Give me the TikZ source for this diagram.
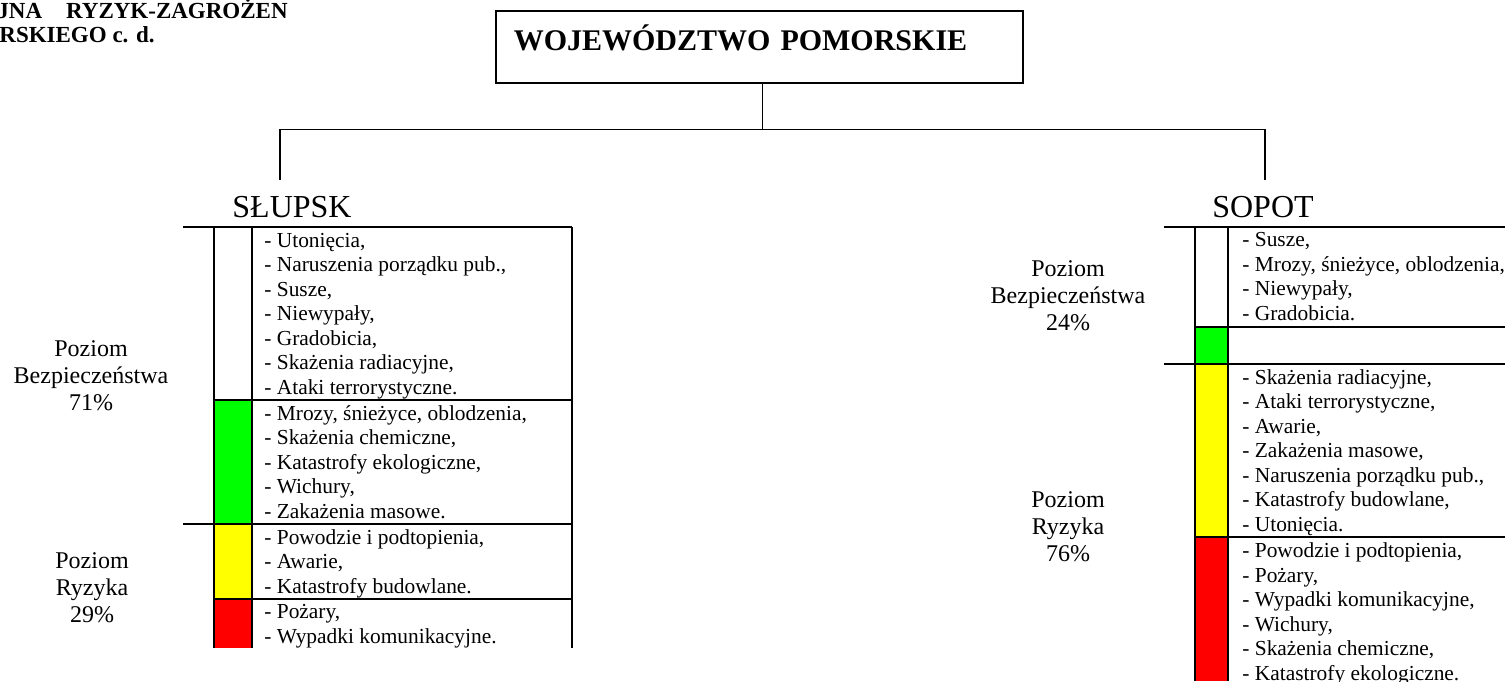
\documentclass[tikz,border=0pt]{standalone}
\usepackage{fontspec}
\setmainfont{Liberation Serif}
\usetikzlibrary{positioning}
\tikzset{font={\fontsize{10.7pt}{12.25pt}\selectfont}}
\definecolor{safegreen}{RGB}{0,255,0}
\definecolor{warnyellow}{RGB}{255,255,0}
\definecolor{riskred}{RGB}{255,0,0}
\tikzset{
  head/.style={anchor=base west, inner sep=0pt, font={\fontsize{11.5pt}{12pt}\selectfont\bfseries}},
  titlebox/.style={draw, line width=0.8pt, anchor=north west, text width=245.5pt, align=left,
    inner xsep=9pt, inner ysep=0pt, text height=20pt, text depth=16pt,
    font={\fontsize{15pt}{16pt}\selectfont\bfseries}},
  city/.style={anchor=base, inner sep=0pt, font={\fontsize{16pt}{18pt}\selectfont}},
  lvl/.style={anchor=base, align=center, inner sep=0pt, font={\fontsize{12pt}{13.5pt}\selectfont}},
  items/.style={anchor=base west, align=left, inner sep=0pt},
  grid/.style={line width=1pt},
  tree/.style={line width=0.8pt},
}

\begin{document}
\begin{tikzpicture}[x=0.5pt, y=-0.5pt]
  \useasboundingbox (0,0) rectangle (1505,681);

  % Heading, cut at the page edge
  \node[head] (head1) at (-3,18) {JNA\hspace{12pt}RYZYK-ZAGROŻEN};
  \node[head] (head2) at (-1,42) {RSKIEGO c. d.};

  % Title and tree
  \node[titlebox] (woj) at (495,10) {WOJEWÓDZTWO POMORSKIE};
  \coordinate (slupskTop) at (280,180);
  \coordinate (sopotTop) at (1265,180);
  \draw[tree] ([xshift=1.5pt]woj.south) -- ++(0,46) -| (slupskTop);
  \draw[tree] ([xshift=1.5pt]woj.south) -- ++(0,46) -| (sopotTop);

  % Slupsk (lists are placed at the baseline of their last line)
  \node[city] (slupsk) at (292,217) {SŁUPSK};
  \fill[safegreen] (214,400) rectangle (252,524);
  \fill[warnyellow] (214,524) rectangle (252,599);
  \fill[riskred] (214,599) rectangle (252,648);
  \draw[grid] (183,227) -- (572,227) (183,524) -- (572,524)
    (214,400) -- (572,400) (214,599) -- (572,599)
    (214,227) -- (214,648) (252,227) -- (252,648) (572,227) -- (572,648);
  \node[items] (slWhite) at (264,394) {- Utonięcia,\\- Naruszenia porządku pub.,\\- Susze,\\- Niewypały,\\- Gradobicia,\\- Skażenia radiacyjne,\\- Ataki terrorystyczne.};
  \node[items] (slGreen) at (264,518) {- Mrozy, śnieżyce, oblodzenia,\\- Skażenia chemiczne,\\- Katastrofy ekologiczne,\\- Wichury,\\- Zakażenia masowe.};
  \node[items] (slYellow) at (264,593) {- Powodzie i podtopienia,\\- Awarie,\\- Katastrofy budowlane.};
  \node[items] (slRed) at (264,643) {- Pożary,\\- Wypadki komunikacyjne.};
  \node[lvl] (slSafe) at (91,410) {Poziom\\Bezpieczeństwa\\71\%};
  \node[lvl] (slRisk) at (92,622) {Poziom\\Ryzyka\\29\%};

  % Sopot
  \node[city] (sopot) at (1263,217) {SOPOT};
  \fill[safegreen] (1195,327) rectangle (1228,364);
  \fill[warnyellow] (1195,364) rectangle (1228,537);
  \fill[riskred] (1195,537) rectangle (1228,681);
  \draw[grid] (1164,227) -- (1505,227) (1164,364) -- (1505,364)
    (1195,327) -- (1505,327) (1195,537) -- (1505,537)
    (1195,227) -- (1195,681) (1228,227) -- (1228,681);
  \node[items] (soWhite) at (1242,320) {- Susze,\\- Mrozy, śnieżyce, oblodzenia,\\- Niewypały,\\- Gradobicia.};
  \node[items] (soYellow) at (1242,531) {- Skażenia radiacyjne,\\- Ataki terrorystyczne,\\- Awarie,\\- Zakażenia masowe,\\- Naruszenia porządku pub.,\\- Katastrofy budowlane,\\- Utonięcia.};
  \node[items] (soRed) at (1242,680) {- Powodzie i podtopienia,\\- Pożary,\\- Wypadki komunikacyjne,\\- Wichury,\\- Skażenia chemiczne,\\- Katastrofy ekologiczne.};
  \node[lvl] (soSafe) at (1068,330) {Poziom\\Bezpieczeństwa\\24\%};
  \node[lvl] (soRisk) at (1068,561) {Poziom\\Ryzyka\\76\%};
\end{tikzpicture}
\end{document}
